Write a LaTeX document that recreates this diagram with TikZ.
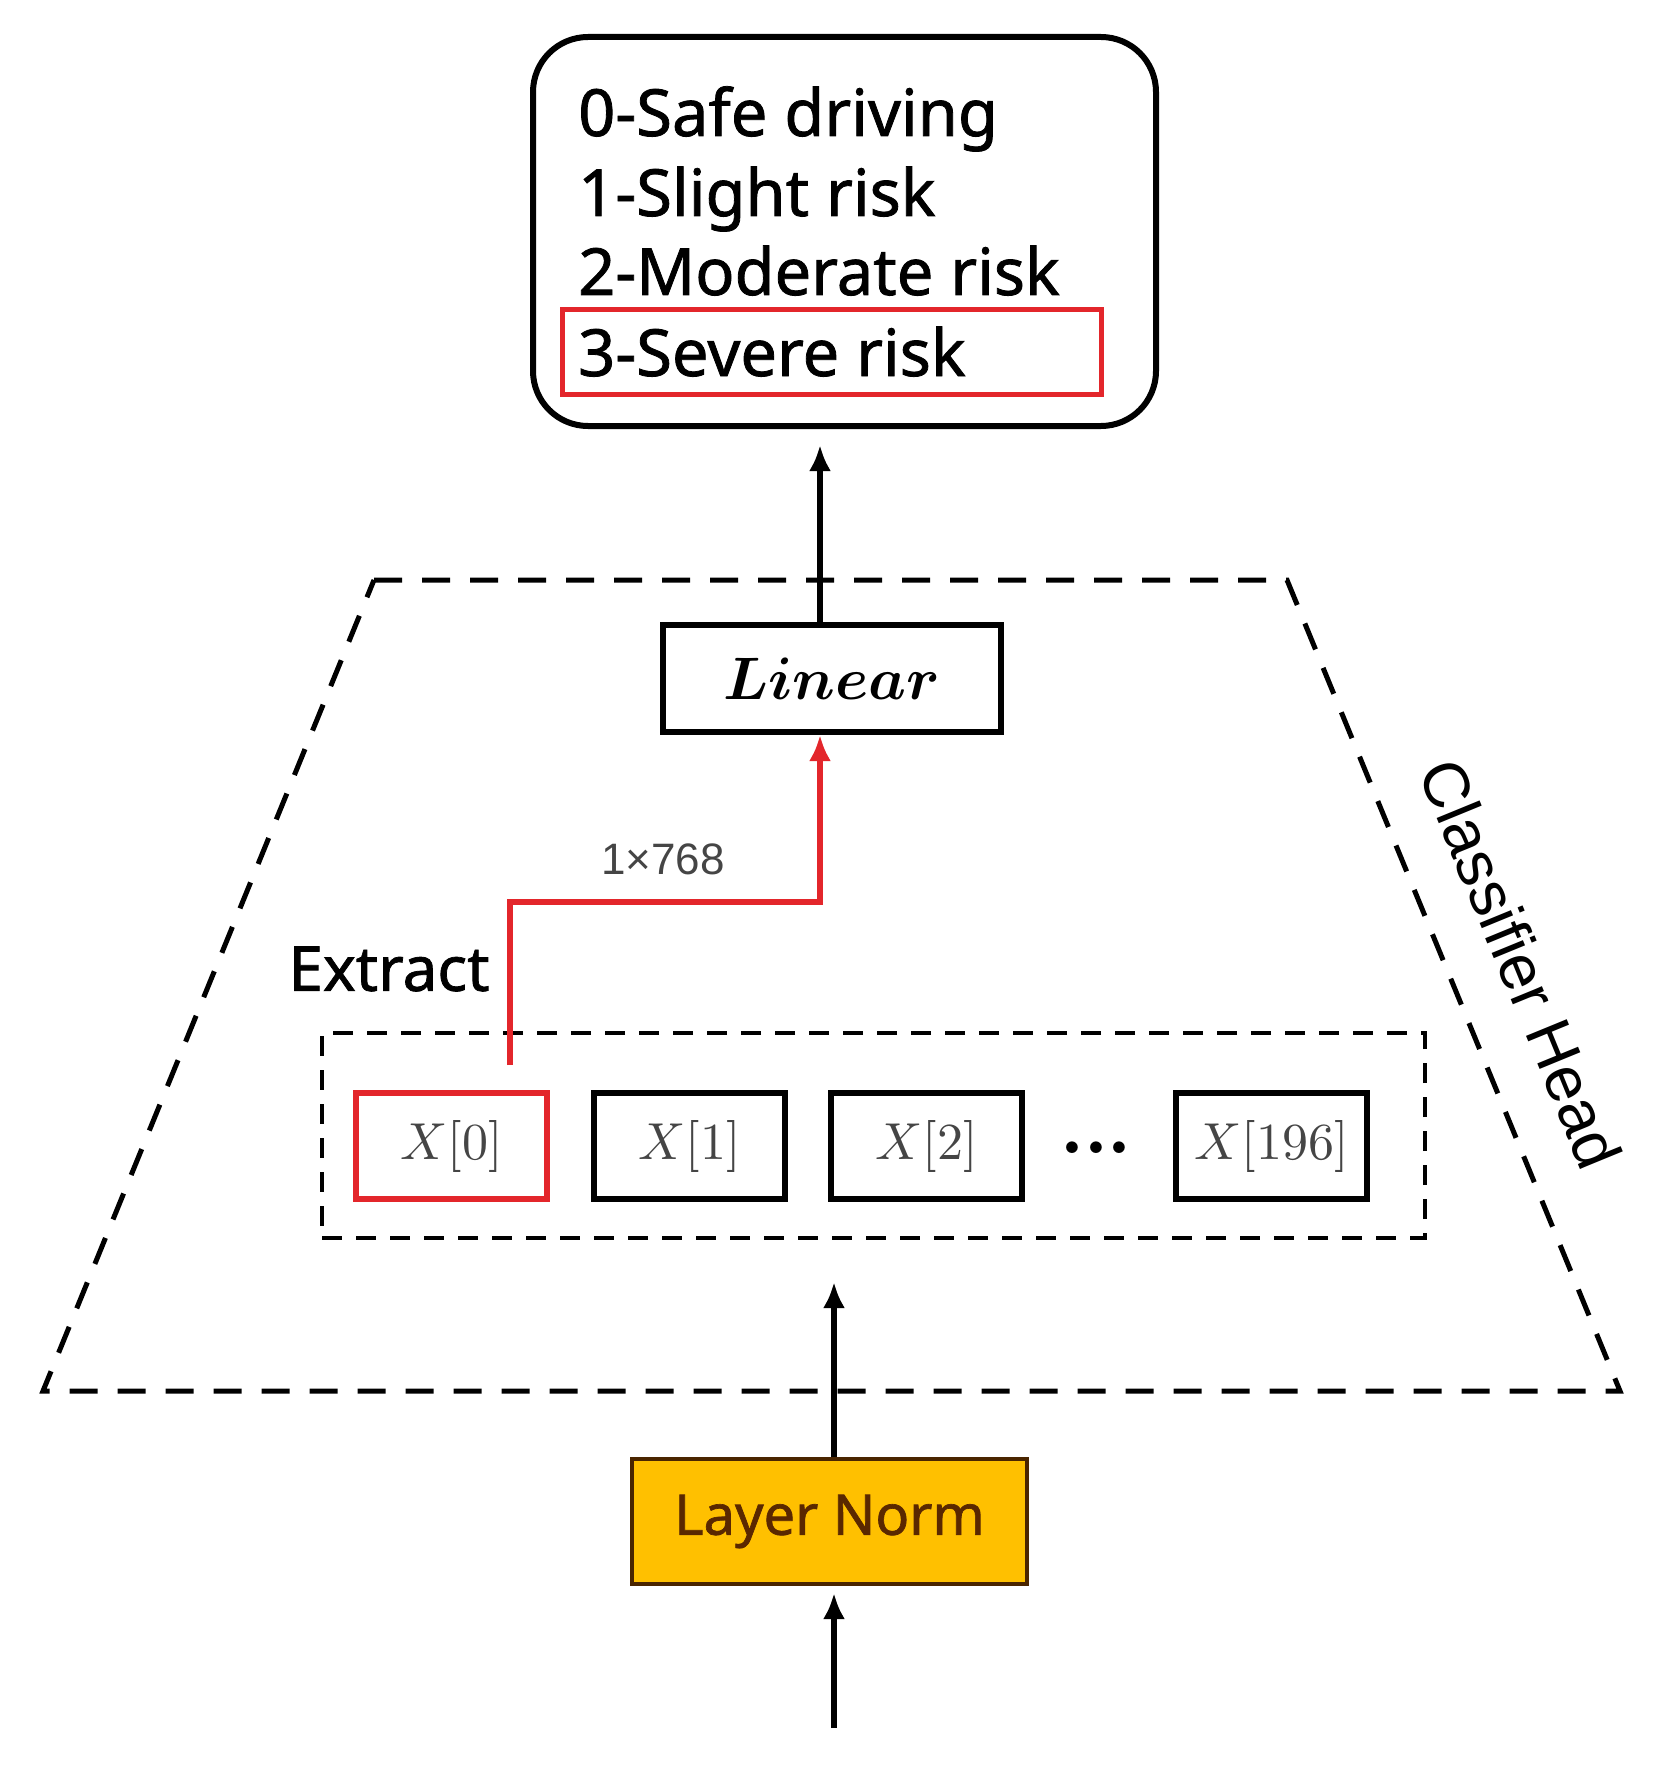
\documentclass[tikz,border=0pt]{standalone}
\usepackage{amsmath}
\usepackage{graphicx}
\usepackage{fontspec}
\newfontfamily\notof[FakeBold=1.2]{Noto Sans}
\newfontfamily\arialf{Liberation Sans}
\usetikzlibrary{arrows.meta}
\definecolor{myred}{HTML}{E3262B}
\definecolor{lnfill}{HTML}{FFC000}
\definecolor{lnborder}{HTML}{4A2500}
\definecolor{lntext}{HTML}{5A2800}
\definecolor{xgray}{HTML}{454545}
\newcommand{\bigmath}[2]{\scalebox{#1}{$#2$}}
\begin{document}
\begin{tikzpicture}[x=1pt,y=-1pt,
  box/.style={draw,line width=6pt,inner sep=0pt},
  arr/.style={line width=5.5pt,-{Latex[length=26pt,width=22pt]}},
  rarr/.style={draw=myred,line width=5.5pt,-{Latex[length=26pt,width=22pt]}},
  dashA/.style={line width=5pt,dash pattern=on 28pt off 20pt},
  dashB/.style={line width=4pt,dash pattern=on 20pt off 14pt},
  listtxt/.style={anchor=base west,inner sep=0pt,font=\notof\fontsize{65}{78}\selectfont},
  xbox/.style={box,minimum width=191pt,minimum height=106pt,text=xgray}]
\useasboundingbox (0,0) rectangle (1672,1776);

% output box
\node[box,rounded corners=55pt,minimum width=623pt,minimum height=389pt] (outbox) at (844.5,231.5) {};
\node[listtxt] (l0) at (578,136) {0-Safe driving};
\node[listtxt] (l1) at (578,216) {1-Slight risk};
\node[listtxt] (l2) at (578,295) {2-Moderate risk};
\node[listtxt] (l3) at (578,376) {3-Severe risk};
\node[draw=myred,line width=5pt,minimum width=539pt,minimum height=84pt,inner sep=0pt] (sel) at (831.5,352) {};

% classifier head trapezoid
\coordinate (t1) at (374,580);
\coordinate (t2) at (1287,580);
\coordinate (t3) at (1620,1391);
\coordinate (t4) at (43,1391);
\draw[dashA] (t1) -- (t2) -- (t3) -- (t4) -- cycle;
\node[rotate=-67.7,font=\arialf\fontsize{64}{70}\selectfont] (ch) at (1521,964) {Classifier Head};

% linear
\node[box,minimum width=338pt,minimum height=107pt] (lin) at (832,678.5) {\bigmath{6}{\boldsymbol{Linear}}};
\coordinate (ax) at (820,0);
\draw[arr,shorten >=16pt] (ax |- lin.north) -- (ax |- outbox.south);

% tokens
\node[draw,dashB,minimum width=1103pt,minimum height=205pt,inner sep=0pt] (inner) at (873.5,1135.5) {};
\node[xbox,draw=myred] (x0) at (451.5,1146) {\bigmath{5.2}{X[0]}};
\node[xbox] (x1) at (689.5,1146) {\bigmath{5.2}{X[1]}};
\node[xbox] (x2) at (926.5,1146) {\bigmath{5.2}{X[2]}};
\node[anchor=base,inner sep=0pt] (dots) at (1096,1166) {\bigmath{7.5}{\boldsymbol{{\cdot}{\cdot}{\cdot}}}};
\node[xbox] (x196) at (1271.5,1146) {\bigmath{5.2}{X[196]}};

\node[font=\notof\fontsize{62}{70}\selectfont] (ext) at (389,969) {Extract};
\node[font=\arialf\fontsize{44}{50}\selectfont,text=xgray] (dim) at (663,859) {1×768};

\coordinate (rb) at (510,1065);
\coordinate (rm) at (510,902);
\draw[rarr] (rb) -- (rm) -| (ax |- lin.south);

% layer norm
\node[draw=lnborder,fill=lnfill,line width=4pt,minimum width=395pt,minimum height=125pt,text=lntext,font=\notof\fontsize{56}{60}\selectfont] (ln) at (829.5,1521.5) {Layer Norm};
\coordinate (bx) at (834,0);
\draw[arr,shorten >=42pt] (bx |- ln.north) -- (bx |- inner.south);
\coordinate (inp) at (834,1728);
\draw[arr,shorten >=7pt] (inp) -- (bx |- ln.south);
\end{tikzpicture}
\end{document}
